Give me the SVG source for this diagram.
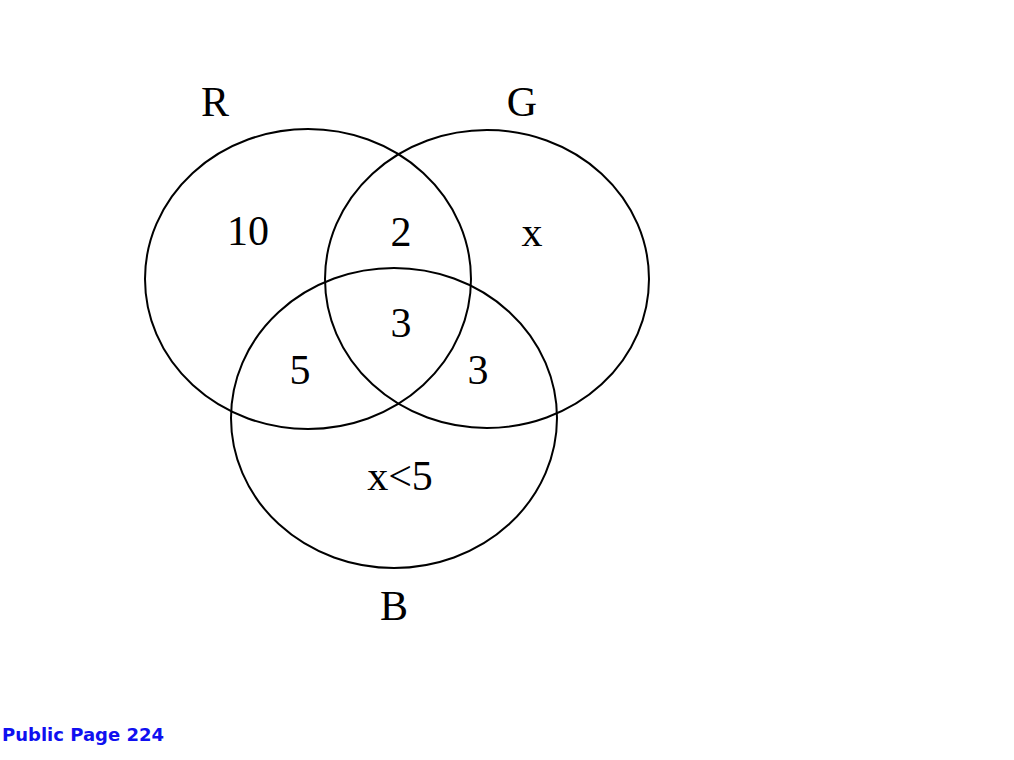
<svg xmlns="http://www.w3.org/2000/svg" width="1014" height="760" viewBox="0 0 1014 760">
<style>
.c{fill:none;stroke:#000;stroke-width:2}
.t{font-family:"Liberation Serif",serif;font-size:42px;fill:#000;text-anchor:middle}
.f{font-family:"DejaVu Sans",sans-serif;font-size:18px;font-weight:bold;fill:#1010f0}
</style>
<rect width="1014" height="760" fill="#fff"/>
<g id="R"><ellipse class="c" cx="308" cy="279" rx="163" ry="150"/><text class="t" x="215" y="116">R</text></g>
<g id="G"><ellipse class="c" cx="487" cy="279" rx="162" ry="149"/><text class="t" x="522" y="116">G</text></g>
<g id="B"><ellipse class="c" cx="394" cy="418" rx="163" ry="150"/><text class="t" x="394" y="620">B</text></g>
<g id="labels">
<text class="t" x="248" y="245">10</text>
<text class="t" x="401" y="246">2</text>
<text class="t" x="532" y="246">x</text>
<text class="t" x="401" y="337">3</text>
<text class="t" x="300" y="384">5</text>
<text class="t" x="478" y="384">3</text>
<text class="t" x="400" y="490">x&lt;5</text>
</g>
<text class="f" x="2" y="741">Public Page 224</text>
</svg>
